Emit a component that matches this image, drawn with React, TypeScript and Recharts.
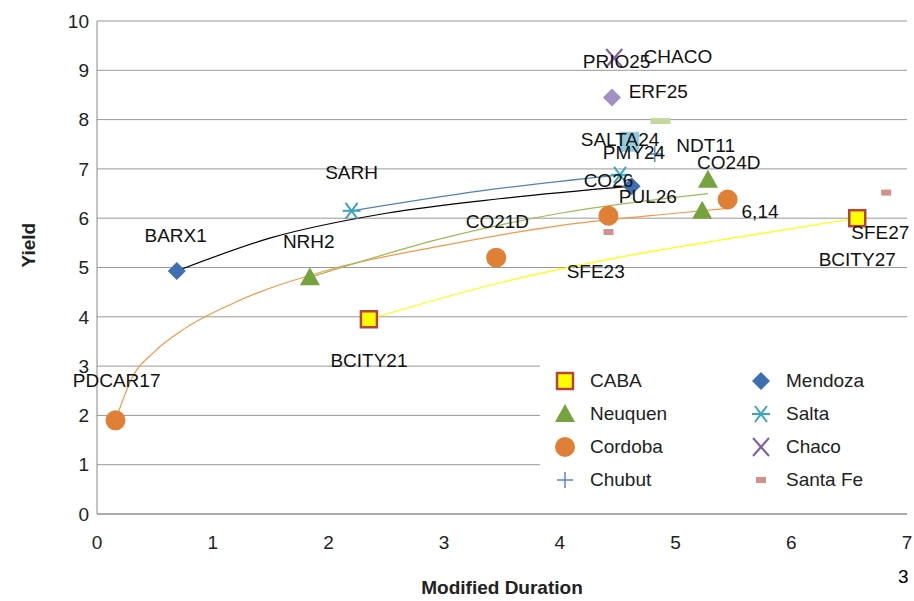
import {
  ComposedChart,
  Scatter,
  Line,
  XAxis,
  YAxis,
  CartesianGrid,
} from "recharts";

// series points [modified duration, yield]
const caba = [{ x: 2.35, y: 3.95 }, { x: 6.57, y: 6.0 }];
const mendoza = [{ x: 0.69, y: 4.93 }, { x: 4.62, y: 6.65 }];
const neuquen = [{ x: 1.84, y: 4.8 }, { x: 5.28, y: 6.78 }, { x: 5.23, y: 6.15 }];
const salta = [{ x: 2.2, y: 6.15 }, { x: 4.52, y: 6.88 }];
const cordoba = [{ x: 0.16, y: 1.9 }, { x: 3.45, y: 5.2 }, { x: 4.42, y: 6.05 }, { x: 5.45, y: 6.38 }];
const chaco = [{ x: 4.47, y: 9.25 }];
const chubut = [{ x: 4.82, y: 7.3 }];
const santaFe = [{ x: 4.42, y: 5.72 }, { x: 6.82, y: 6.52 }];
const otherDiamond = [{ x: 4.45, y: 8.45 }];
const otherSquare = [{ x: 4.6, y: 7.55 }];
const otherDash = [{ x: 4.87, y: 7.97 }];

// trend lines
const trendCordoba = [
  { x: 0.16, y: 1.9 }, { x: 0.3, y: 2.75 }, { x: 0.5, y: 3.3 }, { x: 0.75, y: 3.75 },
  { x: 1.2, y: 4.3 }, { x: 2, y: 4.95 }, { x: 3, y: 5.45 }, { x: 4, y: 5.85 },
  { x: 5, y: 6.1 }, { x: 5.45, y: 6.2 },
];
const trendMendoza = [
  { x: 0.69, y: 4.93 }, { x: 1.5, y: 5.6 }, { x: 2.5, y: 6.1 }, { x: 3.5, y: 6.4 }, { x: 4.62, y: 6.65 },
];
const trendSalta = [{ x: 2.2, y: 6.15 }, { x: 3.3, y: 6.55 }, { x: 4.52, y: 6.88 }];
const trendNeuquen = [{ x: 1.84, y: 4.8 }, { x: 3, y: 5.6 }, { x: 4, y: 6.1 }, { x: 5.28, y: 6.5 }];
const trendCaba = [
  { x: 2.35, y: 3.95 }, { x: 3.5, y: 4.7 }, { x: 4.5, y: 5.2 }, { x: 5.5, y: 5.6 }, { x: 6.57, y: 6.0 },
];

const labels = [
  { x: 4.49, y: 9.17, text: "PRIO25" },
  { x: 5.02, y: 9.27, text: "CHACO" },
  { x: 4.85, y: 8.58, text: "ERF25" },
  { x: 4.52, y: 7.59, text: "SALTA24" },
  { x: 4.64, y: 7.34, text: "PMY24" },
  { x: 5.26, y: 7.48, text: "NDT11" },
  { x: 5.46, y: 7.12, text: "CO24D" },
  { x: 4.42, y: 6.77, text: "CO26" },
  { x: 4.76, y: 6.45, text: "PUL26" },
  { x: 5.73, y: 6.13, text: "6,14" },
  { x: 6.77, y: 5.72, text: "SFE27" },
  { x: 6.57, y: 5.17, text: "BCITY27" },
  { x: 4.31, y: 4.91, text: "SFE23" },
  { x: 3.46, y: 5.94, text: "CO21D" },
  { x: 2.2, y: 6.92, text: "SARH" },
  { x: 0.68, y: 5.64, text: "BARX1" },
  { x: 1.83, y: 5.52, text: "NRH2" },
  { x: 2.35, y: 3.12, text: "BCITY21" },
  { x: 0.17, y: 2.7, text: "PDCAR17" },
];

const xTicks = [0, 1, 2, 3, 4, 5, 6, 7];
const yTicks = [0, 1, 2, 3, 4, 5, 6, 7, 8, 9, 10];

const FONT = "'Liberation Sans', Arial, sans-serif";

type M = { cx?: number; cy?: number };

const Square = ({ cx = 0, cy = 0 }: M) => (
  <rect x={cx - 8} y={cy - 8} width={16} height={16} fill="#ffff00" stroke="#b5443f" strokeWidth={2.5} />
);
const Diamond = (color: string) => ({ cx = 0, cy = 0 }: M) => (
  <polygon points={`${cx},${cy - 9} ${cx + 9},${cy} ${cx},${cy + 9} ${cx - 9},${cy}`} fill={color} />
);
const Triangle = ({ cx = 0, cy = 0 }: M) => (
  <polygon points={`${cx},${cy - 10} ${cx + 10},${cy + 8} ${cx - 10},${cy + 8}`} fill="#77a33f" />
);
const Star = ({ cx = 0, cy = 0 }: M) => (
  <g stroke="#3ba5bf" strokeWidth={2}>
    <line x1={cx - 9} y1={cy} x2={cx + 9} y2={cy} />
    <line x1={cx - 6} y1={cy - 8} x2={cx + 6} y2={cy + 8} />
    <line x1={cx + 6} y1={cy - 8} x2={cx - 6} y2={cy + 8} />
  </g>
);
const Circle = ({ cx = 0, cy = 0 }: M) => <circle cx={cx} cy={cy} r={10} fill="#e07f36" />;
const Cross = ({ cx = 0, cy = 0 }: M) => (
  <g stroke="#7e5ca2" strokeWidth={2}>
    <line x1={cx - 8} y1={cy - 9} x2={cx + 8} y2={cy + 9} />
    <line x1={cx + 8} y1={cy - 9} x2={cx - 8} y2={cy + 9} />
  </g>
);
const Plus = ({ cx = 0, cy = 0 }: M) => (
  <g stroke="#5b86c4" strokeWidth={1.5}>
    <line x1={cx - 8} y1={cy} x2={cx + 8} y2={cy} />
    <line x1={cx} y1={cy - 8} x2={cx} y2={cy + 8} />
  </g>
);
const Dash = (color: string, w: number) => ({ cx = 0, cy = 0 }: M) => (
  <rect x={cx - w / 2} y={cy - 3} width={w} height={6} fill={color} />
);
const BigSquare = ({ cx = 0, cy = 0 }: M) => (
  <rect x={cx - 10} y={cy - 10} width={20} height={20} fill="#93cddd" />
);
const LabelText = (props: any) => (
  <text x={props.cx} y={props.cy} textAnchor="middle" dominantBaseline="central" fontSize={19} fontFamily={FONT} fill="#111">
    {props.payload.text}
  </text>
);

const legendItems: [string, (p: M) => any][] = [
  ["CABA", Square],
  ["Mendoza", Diamond("#3e6fb0")],
  ["Neuquen", Triangle],
  ["Salta", Star],
  ["Cordoba", Circle],
  ["Chaco", Cross],
  ["Chubut", Plus],
  ["Santa Fe", Dash("#d2908e", 10)],
];

export default function App() {
  const s = (data: any, shape: any, name: string) => (
    <Scatter data={data} shape={shape} name={name} isAnimationActive={false} />
  );
  const t = (data: any, color: string) => (
    <Line data={data} dataKey="y" type="monotone" stroke={color} strokeWidth={1.2} dot={false} isAnimationActive={false} />
  );
  return (
    <div style={{ position: "absolute", left: 0, top: 0, width: 914, height: 601, background: "#fff" }}>
      <ComposedChart width={914} height={601} margin={{ top: 21, right: 7, left: 0, bottom: 0 }}>
        <CartesianGrid horizontal vertical={false} stroke="#999" />
        <XAxis
          type="number"
          dataKey="x"
          domain={[0, 7]}
          ticks={xTicks}
          height={87}
          stroke="#888"
          tickLine={false}
          tick={{ fill: "#222", fontSize: 19, fontFamily: FONT, dy: 14 }}
          label={{ value: "Modified Duration", position: "insideBottom", offset: 7, fontSize: 19, fontWeight: "bold", fontFamily: FONT, fill: "#222" }}
        />
        <YAxis
          type="number"
          dataKey="y"
          domain={[0, 10]}
          ticks={yTicks}
          width={97}
          stroke="#888"
          tickLine={false}
          tick={{ fill: "#222", fontSize: 19, fontFamily: FONT }}
          label={{ value: "Yield", angle: -90, position: "insideLeft", offset: 28, fontSize: 19, fontWeight: "bold", fontFamily: FONT, fill: "#222" }}
        />
        {t(trendCordoba, "#f79646")}
        {t(trendMendoza, "#000")}
        {t(trendSalta, "#4f81bd")}
        {t(trendNeuquen, "#9bbb59")}
        {t(trendCaba, "#ffff00")}
        {s(caba, Square, "CABA")}
        {s(mendoza, Diamond("#3e6fb0"), "Mendoza")}
        {s(neuquen, Triangle, "Neuquen")}
        {s(salta, Star, "Salta")}
        {s(cordoba, Circle, "Cordoba")}
        {s(chaco, Cross, "Chaco")}
        {s(chubut, Plus, "Chubut")}
        {s(santaFe, Dash("#d2908e", 10), "Santa Fe")}
        {s(otherDiamond, Diamond("#a28fc4"), "other1")}
        {s(otherSquare, BigSquare, "other2")}
        {s(otherDash, Dash("#c4d79e", 20), "other3")}
        {s(labels, LabelText, "labels")}
      </ComposedChart>
      <div
        style={{
          position: "absolute", left: 540, top: 362, width: 368, height: 140, background: "#fff",
          display: "grid", gridTemplateColumns: "196px 170px", gridAutoRows: "33px", paddingTop: 2,
          fontFamily: FONT, fontSize: 19, color: "#222",
        }}
      >
        {legendItems.map(([name, Shape]) => (
          <div key={name} style={{ display: "flex", alignItems: "center" }}>
            <svg width={50} height={24}>
              <Shape cx={25} cy={12} />
            </svg>
            <span>{name}</span>
          </div>
        ))}
      </div>
      <div style={{ position: "absolute", left: 898, top: 566, fontFamily: FONT, fontSize: 19 }}>3</div>
    </div>
  );
}
